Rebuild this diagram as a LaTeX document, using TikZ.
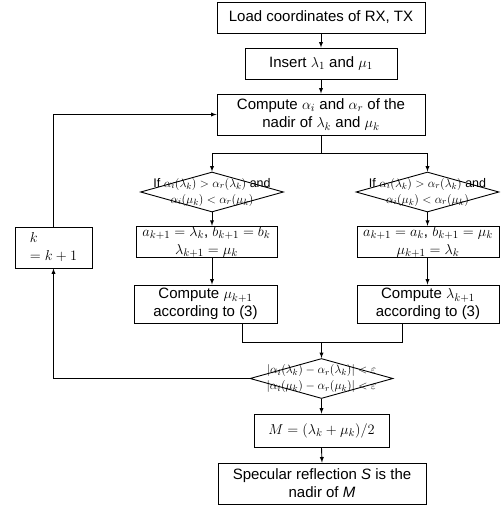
\documentclass[tikz,border=0pt]{standalone}
\usepackage{fontspec}
\setmainfont{Liberation Sans}
\usepackage{tikz}
\usetikzlibrary{arrows,shapes.geometric,positioning,calc}

\tikzset{
	box/.style={draw,line width=0.9pt,align=center,inner sep=0pt,font=\fontsize{15}{18}\selectfont},
	dec/.style={draw,diamond,line width=0.9pt,inner sep=0pt,minimum width=143pt,minimum height=40pt},
	dtext/.style={align=center,inner sep=0pt,font=\fontsize{12.5}{16}\selectfont},
	line/.style={line width=0.9pt},
	>=latex
}

\begin{document}
\begin{tikzpicture}[x=1pt,y=-1pt]
	\useasboundingbox (0,0) rectangle (501,507);
	% main column
	\node (load) at (321,17.5)[box,minimum width=208pt,minimum height=31pt] {Load coordinates of RX, TX};
	\node (insert) at (321,63.5)[box,minimum width=152pt,minimum height=31pt] {Insert $\lambda_1$ and $\mu_1$};
	\node (compute) at (321,114.5)[box,minimum width=208pt,minimum height=41pt] {Compute $\alpha_i$ and $\alpha_r$ of the\\nadir of $\lambda_k$ and $\mu_k$};
	% two branches
	\node (decl) at (212,192)[dec] {};
	\node (decltext) at (decl.center)[dtext] {If $\alpha_i(\lambda_k)>\alpha_r(\lambda_k)$ and\\$\alpha_i(\mu_k)<\alpha_r(\mu_k)$};
	\node (decr) at (427.5,192)[dec] {};
	\node (decrtext) at (decr.center)[dtext] {If $\alpha_i(\lambda_k)>\alpha_r(\lambda_k)$ and\\$\alpha_i(\mu_k)<\alpha_r(\mu_k)$};
	\node (updl) at (206.5,242)[box,minimum width=141pt,minimum height=30pt] {$a_{k+1}=\lambda_k$, $b_{k+1}=b_k$\\$\lambda_{k+1}=\mu_k$};
	\node (updr) at (428,242)[box,minimum width=142pt,minimum height=30pt] {$a_{k+1}=a_k$, $b_{k+1}=\mu_k$\\$\mu_{k+1}=\lambda_k$};
	\node (cmpl) at (205.5,304)[box,minimum width=143pt,minimum height=38pt] {Compute $\mu_{k+1}$\\according to (3)};
	\node (cmpr) at (428,304)[box,minimum width=142pt,minimum height=38pt] {Compute $\lambda_{k+1}$\\according to (3)};
	% stop test and result
	\node (decc) at (321.5,378.5)[dec] {};
	\node (decctext) at (decc.center)[dtext] {$|\alpha_i(\lambda_k)-\alpha_r(\lambda_k)|<\varepsilon$\\$|\alpha_i(\mu_k)-\alpha_r(\mu_k)|<\varepsilon$};
	\node (mid) at (321.5,430.5)[box,minimum width=135pt,minimum height=33pt] {$M=(\lambda_k+\mu_k)/2$};
	\node (spec) at (322,483.5)[box,minimum width=208pt,minimum height=41pt] {Specular reflection \textit{S} is the\\nadir of \textit{M}};
	% loop counter
	\node (kbox) at (53.5,247.5)[box,minimum width=77pt,minimum height=41pt,align=left] {$k$\\$=k+1$};
	\coordinate (fork) at (321,153);
	\coordinate (joinl) at (242,342);
	\coordinate (joinr) at (402,342);
	\coordinate (join) at (321.5,342);
	\draw[line,->] (load)--(insert);
	\draw[line,->] (insert)--(compute);
	\draw[line,->] (compute.south)--(fork)-|(decl.north);
	\draw[line,->] (fork)-|(decr.north);
	\draw[line,->] (decl.south)--(decl.south|-updl.north);
	\draw[line,->] (decl.south|-updl.south)--(decl.south|-cmpl.north);
	\draw[line,->] (decr.south)--(decr.south|-updr.north);
	\draw[line,->] (decr.south|-updr.south)--(decr.south|-cmpr.north);
	\draw[line] (joinl|-cmpl.south)--(joinl)--(joinr)--(joinr|-cmpr.south);
	\draw[line,->] (join)--(decc.north);
	\draw[line,->] (decc.south)--(mid.north);
	\draw[line,->] (mid.south)--(spec.north);
	\draw[line,->] (decc.west)-|(kbox.south);
	\draw[line,->] (kbox.north)|-(compute.west);
\end{tikzpicture}
\end{document}
